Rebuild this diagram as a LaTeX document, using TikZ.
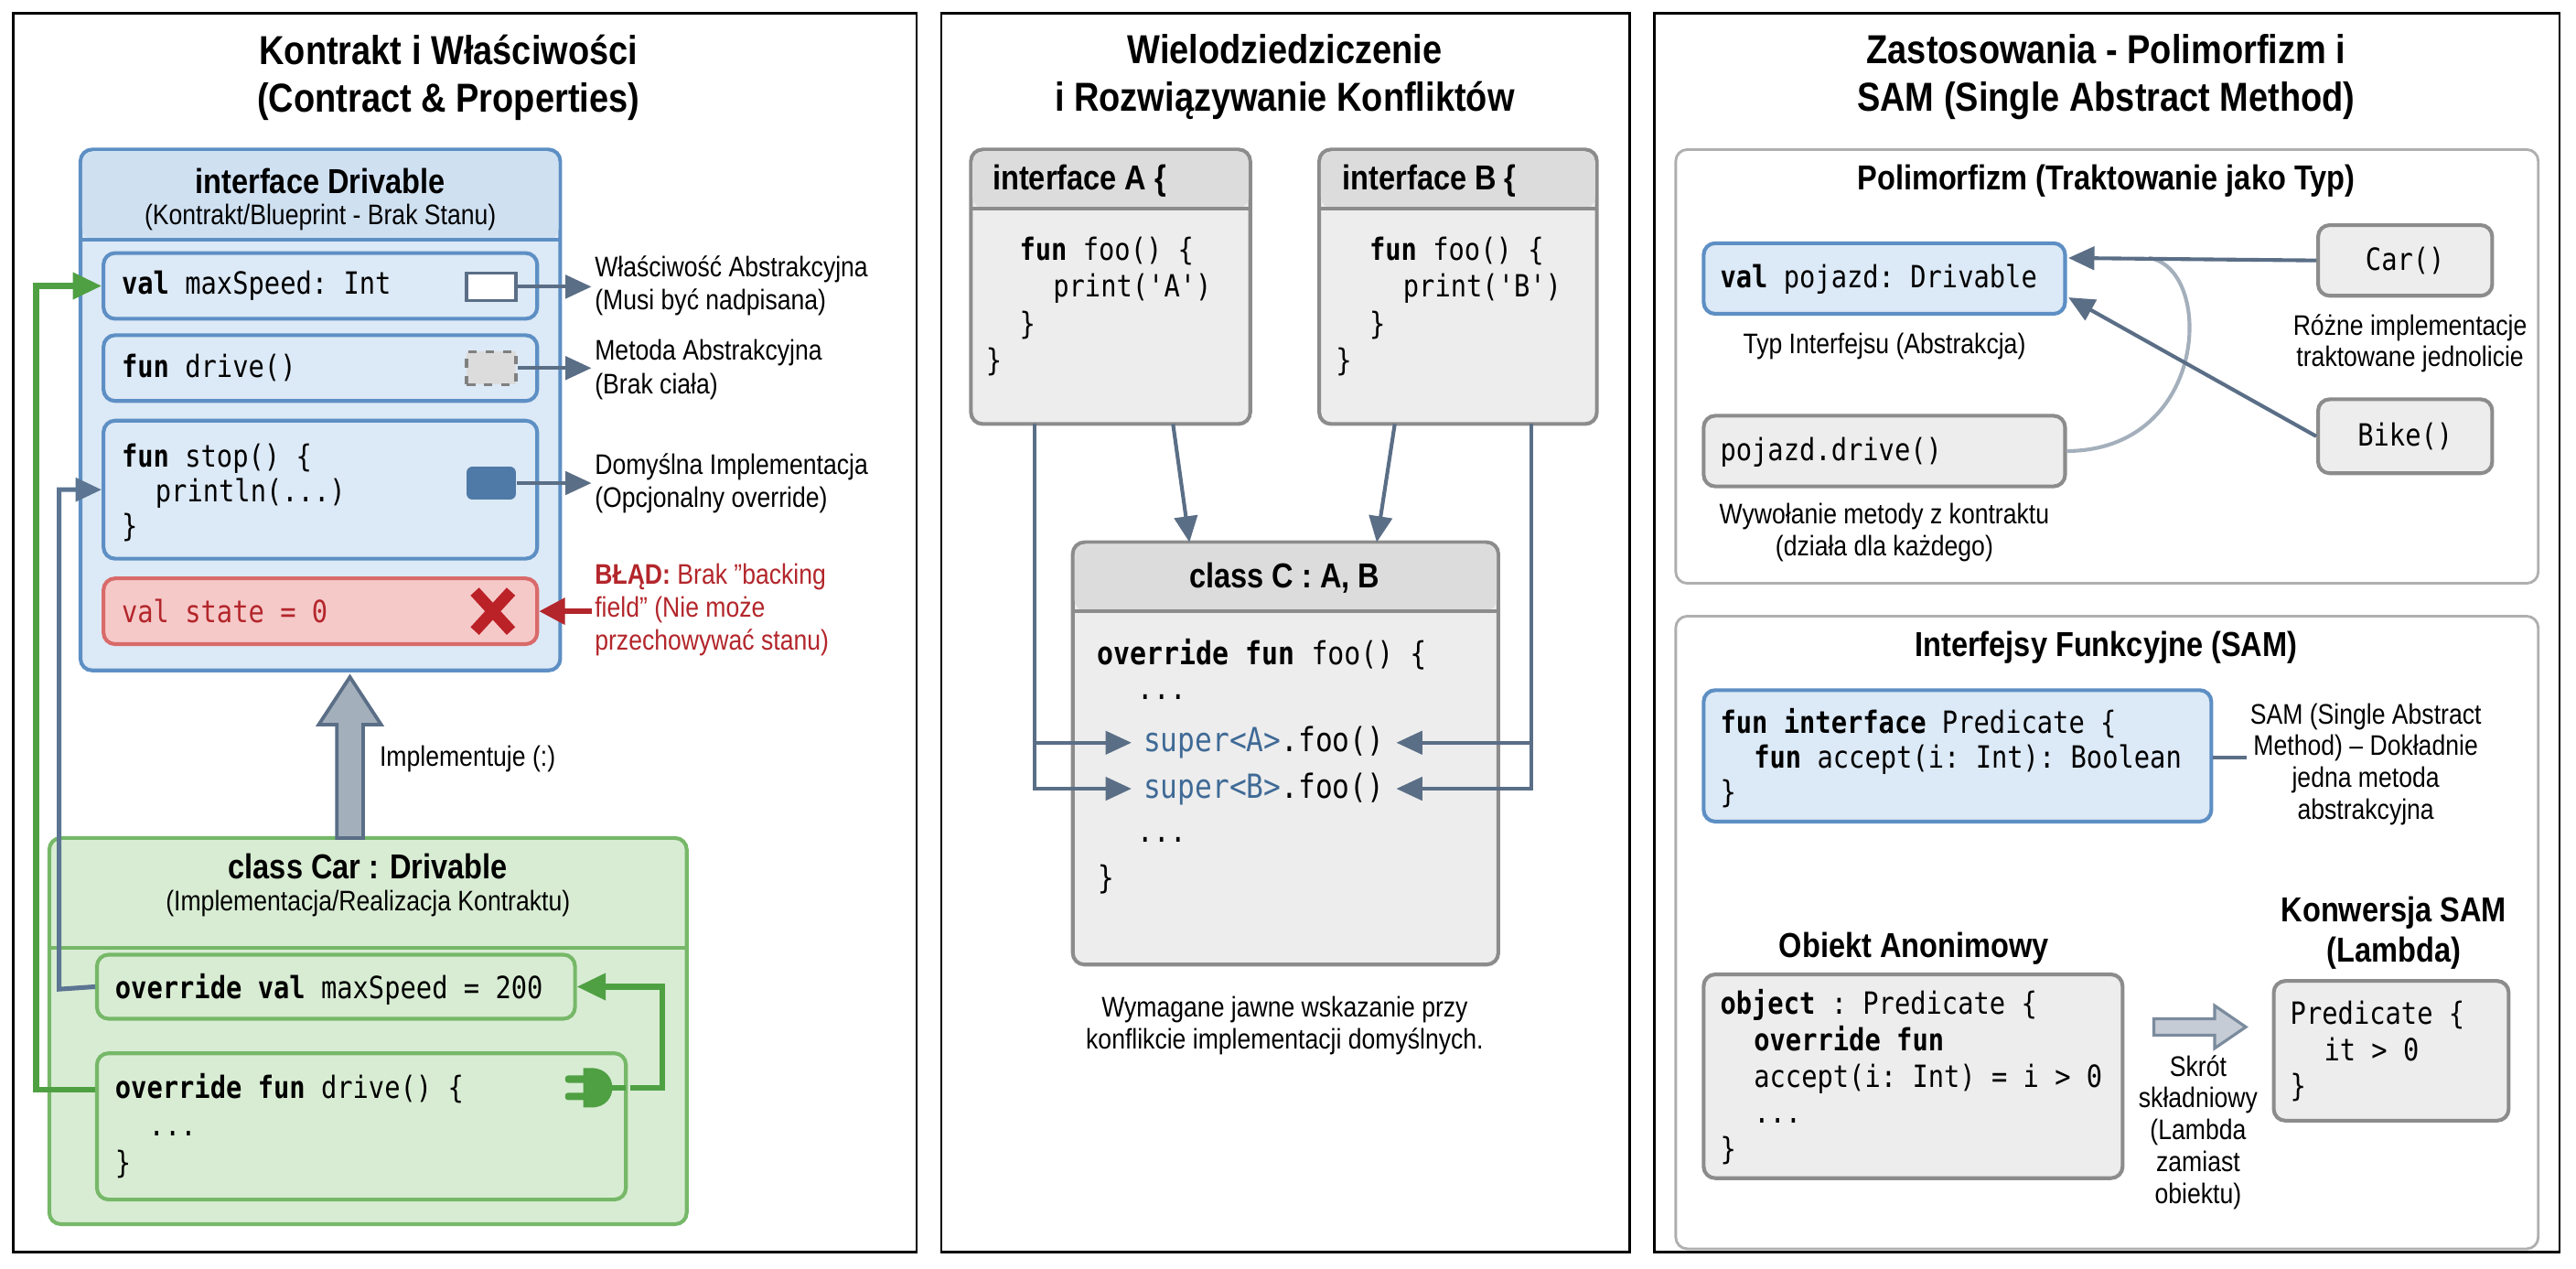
\documentclass[tikz,border=0pt]{standalone}
\usepackage{fontspec}
\setmainfont{Liberation Sans}[FakeStretch=0.86]
\setmonofont{DejaVu Sans Mono}[FakeStretch=0.86]
\usetikzlibrary{fit,arrows.meta}
\definecolor{blueF}{HTML}{DCE9F6}
\definecolor{blueH}{HTML}{CFE0F1}
\definecolor{blueD}{HTML}{5D8FC4}
\definecolor{greenF}{HTML}{D8ECD3}
\definecolor{greenD}{HTML}{76B868}
\definecolor{greenA}{HTML}{4FA043}
\definecolor{grayF}{HTML}{EDEDED}
\definecolor{grayH}{HTML}{DCDCDC}
\definecolor{grayD}{HTML}{8C8C8C}
\definecolor{arrC}{HTML}{5A6E86}
\definecolor{redT}{HTML}{B3262B}
\definecolor{redF}{HTML}{F6C9C9}
\definecolor{redD}{HTML}{D96A6A}
\definecolor{supC}{HTML}{3F6A96}
\begin{document}
\begin{tikzpicture}[x=0.02cm,y=-0.02cm,
  panel/.style={draw=black, line width=0.8pt, inner sep=0},
  box/.style={draw, rounded corners=4pt, line width=1.3pt, inner sep=0},
  bluebox/.style={box, draw=blueD, fill=blueF},
  greenbox/.style={box, draw=greenD, fill=greenF},
  graybox/.style={box, draw=grayD, fill=grayF},
  redbox/.style={box, draw=redD, fill=redF},
  sect/.style={box, draw=grayD!70, line width=0.9pt, fill=white},
  ptitle/.style={font=\fontsize{14}{16.5}\selectfont\bfseries, align=center},
  btitle/.style={font=\fontsize{12}{14}\selectfont\bfseries, align=center},
  sub/.style={font=\fontsize{9.8}{11.5}\selectfont, align=center},
  lbl/.style={font=\fontsize{9.8}{11.5}\selectfont, align=left, inner sep=1pt},
  clbl/.style={font=\fontsize{9.8}{11}\selectfont, align=center, inner sep=1pt},
  code/.style={font=\ttfamily\fontsize{10.6}{11.5}\selectfont, align=left, inner sep=1pt},
  arr/.style={draw=arrC, line width=1.3pt, -{Triangle[length=9pt,width=8pt]}},
  garr/.style={draw=greenA, line width=2pt, -{Triangle[length=10pt,width=9pt]}},
  barr/.style={draw=arrC!80!blueD, line width=1.6pt, -{Triangle[length=9pt,width=8pt]}},
  rarr/.style={draw=redT, line width=1.8pt, -{Triangle[length=9pt,width=9pt]}},
]
\useasboundingbox (0,0) rectangle (1568,772);
\fill[white] (0,0) rectangle (1568,772);
% panels
\node[panel, fit={(8,8)(558,762)}] (p1) {};
\node[panel, fit={(573,8)(992,762)}] (p2) {};
\node[panel, fit={(1007,8)(1558,762)}] (p3) {};

%================ PANEL 1
\node[ptitle] (t1) at (273,47) {Kontrakt i Właściwości\\(Contract \& Properties)};
\node[bluebox, fit={(49,91)(341,408)}] (drv) {};
\fill[blueH, rounded corners=4pt] (50,92) rectangle (340,146);
\draw[blueD, line width=1.3pt] (49,146) -- (341,146);
\node[btitle] (drvT) at (195,110) {interface Drivable};
\node[sub] (drvS) at (195,132) {(Kontrakt/Blueprint - Brak Stanu)};

\node[bluebox, fit={(63,154)(327,194)}] (imax) {};
\node[code, anchor=west] (imaxT) at (72,174) {\textbf{val} maxSpeed: Int};
\node[draw=arrC, fill=white, line width=1pt, inner sep=0, fit={(284,166)(314,183)}] (sq1) {};

\node[bluebox, fit={(63,204)(327,244)}] (idrv) {};
\node[code, anchor=west] (idrvT) at (72,224) {\textbf{fun} drive()};
\node[draw=gray, dashed, fill=grayH, line width=1pt, inner sep=0, fit={(284,214)(314,234)}] (sq2) {};

\node[bluebox, fit={(63,256)(327,340)}] (istop) {};
\node[code, anchor=north west, font=\ttfamily\fontsize{10.6}{12}\selectfont] (istopT) at (72,268) {\textbf{fun} stop() \{\\\hspace*{1.1em}println(...)\\\}};
\node[fill=blueD!85!black, rounded corners=2pt, inner sep=0, fit={(284,284)(314,304)}] (sq3) {};

\node[redbox, fit={(63,352)(327,392)}] (istate) {};
\node[code, anchor=west, text=redT] (istateT) at (72,372) {val state = 0};
\node[inner sep=0, minimum size=30] (xmark) at (300,372) {};
\draw[redT!90!red, line width=4pt] (289,360) -- (311,384) (311,360) -- (289,384);

\node[lbl, anchor=west] (l1) at (360,174) {Właściwość Abstrakcyjna\\(Musi być nadpisana)};
\node[lbl, anchor=west] (l2) at (360,225) {Metoda Abstrakcyjna\\(Brak ciała)};
\node[lbl, anchor=west] (l3) at (360,294) {Domyślna Implementacja\\(Opcjonalny override)};
\node[lbl, anchor=west, text=redT] (l4) at (360,371) {\textbf{BŁĄD:} Brak {\char34}backing\\field{\char34} (Nie może\\przechowywać stanu)};
\draw[arr] (sq1.east) -- (sq1.east -| l1.west);
\draw[arr] (sq2.east) -- (sq2.east -| l2.west);
\draw[arr] (sq3.east) -- (sq3.east -| l3.west);
\draw[rarr] (l4.west |- istate.east) -- (istate.east);

% class Car
\node[greenbox, fit={(30,510)(418,745)}] (car) {};
\draw[greenD, line width=1.3pt] (30,577) -- (418,577);
\node[btitle] (carT) at (224,527) {class Car : Drivable};
\node[sub] (carS) at (224,550) {(Implementacja/Realizacja Kontraktu)};
\node[greenbox, fit={(59,581)(350,620)}] (ovmax) {};
\node[code, anchor=west] (ovmaxT) at (68,602) {\textbf{override val} maxSpeed = 200};
\node[greenbox, fit={(59,641)(381,730)}] (ovdrv) {};
\node[code, anchor=north west, font=\ttfamily\fontsize{10.6}{13}\selectfont] (ovdrvT) at (68,651) {\textbf{override fun} drive() \{\\\hspace*{1.1em}...\\\}};
% plug
\node[inner sep=0, minimum size=24] (plug) at (362,662) {};
\fill[greenA] (355,650) -- (360,650) .. controls (377,650) and (377,674) .. (360,674) -- (355,674) -- cycle;
\fill[greenA, rounded corners=1pt] (344,654.5) rectangle (357,659) (344,665) rectangle (357,669.5);
\draw[greenA, line width=2pt] (372,662) -- (381,662);
% implement arrow
\coordinate (implB) at (213,510);
\fill[arrC!55!white, draw=arrC, line width=1.2pt] (205,510) -- (205,441) -- (194,441) -- (213,412) -- (232,441) -- (221,441) -- (221,510) -- cycle;
\node[lbl, anchor=west] (implL) at (229,462) {Implementuje (:)};
% connectors
\coordinate (gR) at (403,662);
\draw[garr] (plug.east) -- (gR) |- (ovmax.east);
\coordinate (gL) at (22,663);
\draw[garr] (gL -| ovdrv.west) -- (gL) |- (imax.west);
\coordinate (bL) at (36,602);
\draw[barr] (ovmax.west) -- (bL) |- (istop.west);

%================ PANEL 2
\node[ptitle] (t2) at (782,47) {Wielodziedziczenie\\i Rozwiązywanie Konfliktów};
\node[graybox, fit={(591,91)(761,258)}] (ia) {};
\fill[grayH, rounded corners=4pt] (592,92) rectangle (760,127);
\draw[grayD, line width=1.3pt] (591,127) -- (761,127);
\node[btitle, anchor=west] (iaT) at (598,110) {interface A \{};
\node[code, anchor=north west, font=\ttfamily\fontsize{10.6}{12.8}\selectfont] (iaC) at (598,142) {\hspace*{1.1em}\textbf{fun} foo() \{\\\hspace*{2.2em}print('A')\\\hspace*{1.1em}\}\\\}};
\node[graybox, fit={(803,91)(972,258)}] (ib) {};
\fill[grayH, rounded corners=4pt] (804,92) rectangle (971,127);
\draw[grayD, line width=1.3pt] (803,127) -- (972,127);
\node[btitle, anchor=west] (ibT) at (811,110) {interface B \{};
\node[code, anchor=north west, font=\ttfamily\fontsize{10.6}{12.8}\selectfont] (ibC) at (811,142) {\hspace*{1.1em}\textbf{fun} foo() \{\\\hspace*{2.2em}print('B')\\\hspace*{1.1em}\}\\\}};

\node[graybox, fit={(653,330)(912,587)}] (cc) {};
\fill[grayH, rounded corners=4pt] (654,331) rectangle (911,372);
\draw[grayD, line width=1.3pt] (653,372) -- (912,372);
\node[btitle] (ccT) at (782,352) {class C : A, B};
\node[code, anchor=west, font=\ttfamily\fontsize{11}{12}\selectfont] (cc1) at (666,398) {\textbf{override fun} foo() \{};
\node[code, anchor=west, font=\ttfamily\fontsize{11}{12}\selectfont] (cc2) at (690,424) {...};
\node[code, anchor=west, font=\ttfamily\fontsize{11.5}{12}\selectfont] (supA) at (694,452) {\textcolor{supC}{super<A>}.foo()};
\node[code, anchor=west, font=\ttfamily\fontsize{11.5}{12}\selectfont] (supB) at (694,480) {\textcolor{supC}{super<B>}.foo()};
\node[code, anchor=west, font=\ttfamily\fontsize{11}{12}\selectfont] (cc5) at (690,511) {...};
\node[code, anchor=west, font=\ttfamily\fontsize{11}{12}\selectfont] (cc6) at (666,535) {\}};
\coordinate (a0) at (714,258); \coordinate (a1) at (724,330);
\coordinate (b0) at (849,258); \coordinate (b1) at (838,330);
\draw[arr] (a0) -- (a1);
\draw[arr] (b0) -- (b1);
\coordinate (aL) at (630,258); \coordinate (bR) at (932,258);
\draw[arr, shorten >=3pt] (aL) |- (supA.west);
\draw[arr, shorten >=3pt] (aL) |- (supB.west);
\draw[arr, shorten >=3pt] (bR) |- (supA.east);
\draw[arr, shorten >=3pt] (bR) |- (supB.east);
\node[clbl] (cap2) at (782,624) {Wymagane jawne wskazanie przy\\konflikcie implementacji domyślnych.};

%================ PANEL 3
\node[ptitle] (t3) at (1282,47) {Zastosowania - Polimorfizm i\\SAM (Single Abstract Method)};
\node[sect, fit={(1020,91)(1545,355)}] (s1) {};
\node[btitle] (s1T) at (1282,110) {Polimorfizm (Traktowanie jako Typ)};
\node[bluebox, fit={(1037,148)(1257,191)}] (pv) {};
\node[code, anchor=west] (pvT) at (1045,170) {\textbf{val} pojazd: Drivable};
\node[clbl] (pvL) at (1147,211) {Typ Interfejsu (Abstrakcja)};
\node[graybox, fit={(1037,253)(1257,296)}] (pd) {};
\node[code, anchor=west] (pdT) at (1045,275) {pojazd.drive()};
\node[clbl] (pdL) at (1147,324) {Wywołanie metody z kontraktu\\(działa dla każdego)};
\node[graybox, fit={(1411,137)(1517,180)}] (carN) {};
\node[code] (carNT) at (carN) {Car()};
\node[graybox, fit={(1411,243)(1517,288)}] (bike) {};
\node[code] (bikeT) at (bike) {Bike()};
\node[clbl] (diff) at (1467,209) {Różne implementacje\\traktowane jednolicie};
\coordinate (pvA) at (1259,157); \coordinate (pvB) at (1259,181);
\coordinate (cEnd) at (1308,157);
\draw[arrC!55!white, line width=1.3pt] (pd.east) .. controls (1345,274) and (1348,163) .. (cEnd);
\draw[arr] (carN.west) -- (pvA);
\draw[arr] (bike.west) -- (pvB);

\node[sect, fit={(1020,375)(1545,760)}] (s2) {};
\node[btitle] (s2T) at (1282,394) {Interfejsy Funkcyjne (SAM)};
\node[bluebox, fit={(1037,420)(1346,500)}] (fi) {};
\node[code, anchor=north west, font=\ttfamily\fontsize{10.6}{12}\selectfont] (fiT) at (1045,429) {\textbf{fun interface} Predicate \{\\\hspace*{1.1em}\textbf{fun} accept(i: Int): Boolean\\\}};
\node[clbl] (samL) at (1440,465) {SAM (Single Abstract\\Method) – Dokładnie\\jedna metoda\\abstrakcyjna};
\draw[arrC, line width=1.3pt] (fi.east |- 0,461) -- (samL.west |- 0,461);
\node[btitle] (objL) at (1165,577) {Obiekt Anonimowy};
\node[btitle] (lamL) at (1457,568) {Konwersja SAM\\(Lambda)};
\node[graybox, fit={(1037,593)(1292,717)}] (obj) {};
\node[code, anchor=north west, font=\ttfamily\fontsize{10.6}{12.6}\selectfont] (objT) at (1045,600) {\textbf{object} : Predicate \{\\\hspace*{1.1em}\textbf{override fun}\\\hspace*{1.1em}accept(i: Int) = i > 0\\\hspace*{1.1em}...\\\}};
\node[graybox, fit={(1384,597)(1527,682)}] (lam) {};
\node[code, anchor=north west, font=\ttfamily\fontsize{10.6}{12.6}\selectfont] (lamT) at (1392,607) {Predicate \{\\\hspace*{1.1em}it > 0\\\}};
\coordinate (sA) at (1311,625);
\fill[arrC!35!white, draw=arrC!80!white, line width=1pt] (1311,620) -- (1348,620) -- (1348,612) -- (1367,625) -- (1348,638) -- (1348,630) -- (1311,630) -- cycle;
\node[clbl] (skr) at (1338,689) {Skrót\\składniowy\\(Lambda\\zamiast\\obiektu)};
\end{tikzpicture}
\end{document}
